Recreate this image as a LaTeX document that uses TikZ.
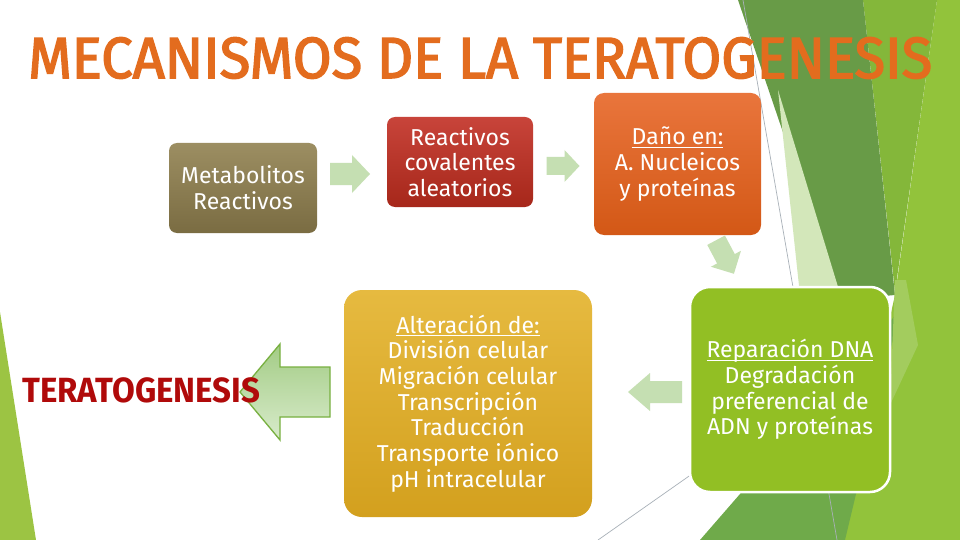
\documentclass[tikz,border=0pt]{standalone}
\usepackage{fontspec}
\setmainfont{Fira Sans}
\newfontfamily\titlefont[FakeBold=2.6]{Fira Sans}
\definecolor{titleor}{HTML}{E36C1E}
\definecolor{teradred}{HTML}{B00A0A}
\definecolor{gDark}{HTML}{689B47}
\definecolor{gMed}{HTML}{84B73A}
\definecolor{gBright}{HTML}{92C33B}
\definecolor{gLow}{HTML}{6FAA4A}
\definecolor{gPale}{HTML}{D3E7BA}
\definecolor{gPale2}{HTML}{A3CC5E}
\definecolor{gLeft}{HTML}{9CC443}
\definecolor{metTop}{HTML}{9C8E62}
\definecolor{metBot}{HTML}{7A6C42}
\definecolor{covTop}{HTML}{C8443A}
\definecolor{covBot}{HTML}{A6271A}
\definecolor{danTop}{HTML}{E9753C}
\definecolor{danBot}{HTML}{D35816}
\definecolor{altTop}{HTML}{E6BA40}
\definecolor{altBot}{HTML}{D3A01E}
\definecolor{repFill}{HTML}{92BF24}
\definecolor{arrLight}{HTML}{C5DFB2}
\definecolor{bigTop}{HTML}{A3CC85}
\definecolor{bigBot}{HTML}{D8EBCB}
\definecolor{bigEdge}{HTML}{78B040}
\definecolor{thinLine}{HTML}{A8B0B8}
\newcommand\myul[1]{\setbox0\hbox{#1}\rlap{\rule[-3pt]{\wd0}{1.1pt}}\box0}
\newcommand\barrow[8]{%
  \begin{scope}[shift={(#1,#2)},rotate=#3]
    \path[#8] (-#4/2,-#7) -- (#4/2-#5,-#7) -- (#4/2-#5,-#6) -- (#4/2,0)
      -- (#4/2-#5,#6) -- (#4/2-#5,#7) -- (-#4/2,#7) -- cycle;
  \end{scope}}
\tikzset{
  bx/.style={align=center, text=white, inner sep=0pt,
    font=\fontsize{23}{25.7}\selectfont},
  smallarr/.style={fill=arrLight},
}
\begin{document}
\begin{tikzpicture}[x=1pt,y=-1pt]
\useasboundingbox (0,0) rectangle (960,540);
\fill[white] (0,0) rectangle (960,540);
% background facets
\fill[gLeft] (0,312) -- (36,540) -- (0,540) -- cycle;
\fill[gBright] (937,0) -- (960,0) -- (960,540) -- (840,540) -- (895,295) -- cycle;
\fill[gMed] (863,0) -- (937,0) -- (895,292) -- cycle;
\fill[gDark] (738,0) -- (863,0) -- (895,295) -- (840,300) -- cycle;
\fill[gLow] (700,540) -- (845,540) -- (900,310) -- cycle;
\fill[gPale] (778,90) -- (800,295) -- (842,300) -- cycle;
\fill[gPale2] (895,280) -- (906,280) -- (918,345) -- (890,405) -- cycle;
\coordinate (l1a) at (743,0);
\coordinate (l1b) at (837,540);
\coordinate (l2a) at (598,540);
\coordinate (l2b) at (692,474);
\draw[thinLine, line width=0.7pt] (l1a) -- (l1b);
\draw[thinLine, line width=0.7pt] (l2a) -- (l2b);
% boxes
\node[bx, rounded corners=8pt, top color=metTop, bottom color=metBot,
  minimum width=148pt, minimum height=90pt] (met) at (243,188)
  {Metabolitos\\Reactivos};
\node[bx, rounded corners=8pt, top color=covTop, bottom color=covBot,
  minimum width=146pt, minimum height=90pt] (cov) at (460,162)
  {Reactivos\\covalentes\\aleatorios};
\node[bx, rounded corners=10pt, top color=danTop, bottom color=danBot,
  minimum width=167pt, minimum height=142pt] (dan) at (677.5,164)
  {\myul{Daño en:}\\A. Nucleicos\\y proteínas};
\node[bx, rounded corners=18pt, top color=altTop, bottom color=altBot,
  minimum width=248pt, minimum height=227pt] (alt) at (468,403.5)
  {\myul{Alteración de:}\\División celular\\Migración celular\\Transcripción\\Traducción\\Transporte iónico\\pH intracelular};
\node[bx, rounded corners=20pt, fill=repFill, draw=white, line width=2.5pt,
  minimum width=200pt, minimum height=205pt] (rep) at (790,389.5)
  {\myul{Reparación DNA}\\Degradación\\preferencial de\\ADN y proteínas};
% block arrows
\barrow{350}{174}{0}{40}{18}{19}{11}{smallarr}
\barrow{563}{166}{0}{33}{15}{16}{9}{smallarr}
\barrow{725}{257}{-62}{38}{17}{17}{10}{smallarr}
\barrow{655}{392}{180}{54}{22}{19}{11}{smallarr}
\barrow{285}{392}{180}{90}{40}{48}{25}{top color=bigTop, bottom color=bigBot, draw=bigEdge, line width=1.3pt}
% texts
\node[inner sep=0pt, anchor=base west, text=teradred,
  font=\fontsize{35}{40}\selectfont\bfseries] (tera) at (22,402)
  {\resizebox{238pt}{\height}{TERATOGENESIS}};
\node[inner sep=0pt, anchor=base west, text=titleor,
  font=\fontsize{58}{60}\selectfont\titlefont] (title) at (28,78)
  {\resizebox{904pt}{\height}{MECANISMOS DE LA TERATOGENESIS}};
\end{tikzpicture}
\end{document}
